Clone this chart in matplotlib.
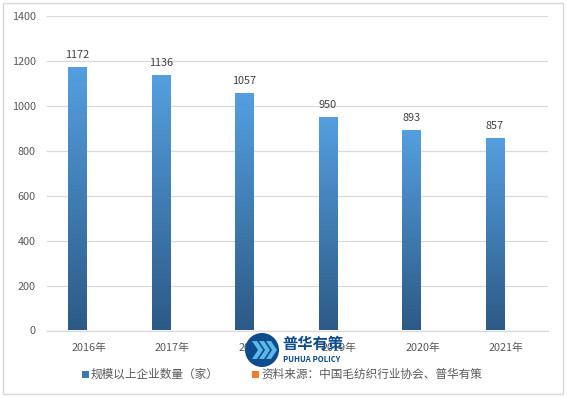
import numpy as np
import matplotlib.pyplot as plt
from matplotlib.patches import Rectangle, Ellipse, Polygon
from matplotlib.colors import LinearSegmentedColormap

plt.rcParams['font.family'] = ['Noto Sans CJK SC', 'DejaVu Sans']

years = ['2016年', '2017年', '2018年', '2019年', '2020年', '2021年']
counts = [1172, 1136, 1057, 950, 893, 857]
series_name = '规模以上企业数量（家）'
source_name = '资料来源：中国毛纺织行业协会、普华有策'

W, H = 567, 397
fig = plt.figure(figsize=(W / 100, H / 100), dpi=100)
ax = fig.add_axes([47 / W, 1 - 330.5 / H, 501 / W, 314.5 / H])

text_c = '#595959'
grid_c = '#D9D9D9'
cmap = LinearSegmentedColormap.from_list('bar', ['#2C5A86', '#559FE0'])
grad = np.linspace(0, 1, 256).reshape(-1, 1)

x = np.arange(len(years))
width = 0.22
offset = -0.135
for xi, v in zip(x, counts):
    left = xi + offset - width / 2
    rect = Rectangle((left, 0), width, v, facecolor='none', edgecolor='none')
    ax.add_patch(rect)
    im = ax.imshow(grad, cmap=cmap, origin='lower', aspect='auto',
                   extent=[left, left + width, 0, v], zorder=2)
    im.set_clip_path(rect)
    ax.text(xi + offset, v + 32, str(v), ha='center', va='bottom',
            fontsize=7.8, color='#404040')

ax.set_xlim(-0.5, len(years) - 0.5)
ax.set_ylim(0, 1400)
ax.set_yticks(range(0, 1401, 200))
ax.set_xticks(x)
ax.set_xticklabels(years)
ax.tick_params(axis='both', length=0, labelsize=7.8, colors=text_c)
ax.tick_params(axis='x', pad=9)
ax.tick_params(axis='y', pad=8)
ax.yaxis.grid(True, color=grid_c, linewidth=0.9)
ax.set_axisbelow(True)
for s in ['top', 'right', 'left']:
    ax.spines[s].set_visible(False)
ax.spines['bottom'].set_color(grid_c)
ax.spines['bottom'].set_linewidth(0.9)

# legend
fig.patches.append(Rectangle((82 / W, 1 - 378 / H), 7 / W, 7 / H,
                             transform=fig.transFigure, facecolor='#3F78B0',
                             edgecolor='none'))
fig.text(91 / W, 1 - 374.5 / H, series_name, fontsize=8.4, color=text_c,
         va='center', ha='left')
fig.patches.append(Rectangle((252 / W, 1 - 378 / H), 7 / W, 7 / H,
                             transform=fig.transFigure, facecolor='#ED7D31',
                             edgecolor='none'))
fig.text(261 / W, 1 - 374.5 / H, source_name, fontsize=8.4, color=text_c,
         va='center', ha='left')

# watermark logo
cx, cy, r = 262, 350, 17
fig.patches.append(Ellipse((cx / W, 1 - cy / H), 2 * r / W, 2 * r / H,
                           transform=fig.transFigure, facecolor='#0E4C8C',
                           edgecolor='none', zorder=5))
for dx in (-10, -3, 4):
    pts = [(cx + dx, cy - 9), (cx + dx + 5, cy - 9), (cx + dx + 11, cy),
           (cx + dx + 5, cy + 9), (cx + dx, cy + 9), (cx + dx + 6, cy)]
    fig.patches.append(Polygon([(px / W, 1 - py / H) for px, py in pts],
                               closed=True, transform=fig.transFigure,
                               facecolor='#5BB8E8', edgecolor='none', zorder=6))
fig.text(282 / W, 1 - 344 / H, '普华有策', fontsize=11, fontweight='bold',
         color='#0E4C8C', va='center', ha='left', zorder=6)
fig.text(283 / W, 1 - 360 / H, 'PUHUA POLICY', fontsize=5.6, fontweight='bold',
         color='#0E4C8C', va='center', ha='left', zorder=6)

# chart border
fig.patches.append(Rectangle((3 / W, 3 / H), 560 / W, 391 / H,
                             transform=fig.transFigure, facecolor='none',
                             edgecolor='#D9D9D9', linewidth=1))

fig.savefig('out.png', dpi=100)
